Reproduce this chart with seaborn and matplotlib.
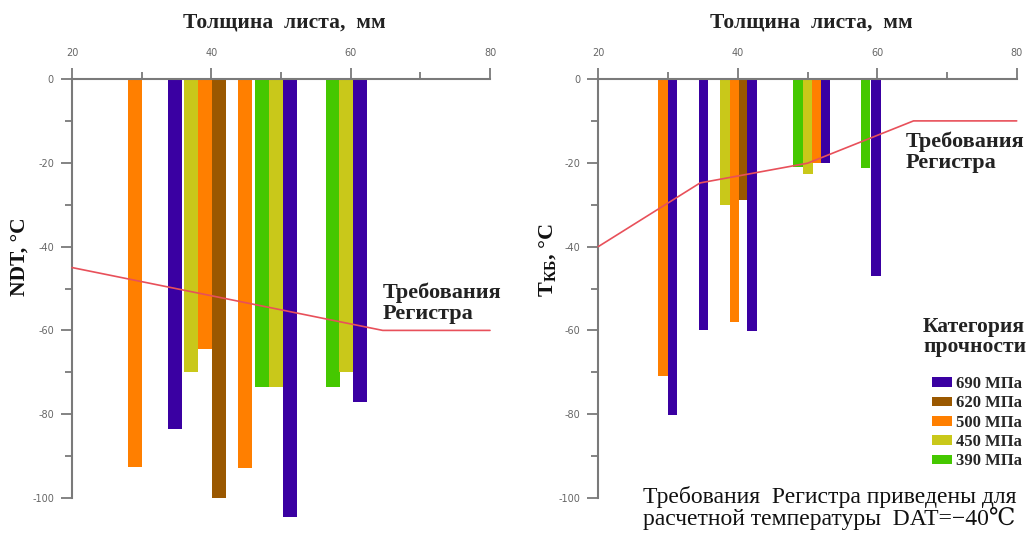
import matplotlib
matplotlib.use("Agg")
import matplotlib.pyplot as plt
from matplotlib.patches import Patch
import seaborn as sns
import numpy as np

# ---------------- data ----------------
categories = ["690 МПа", "620 МПа", "500 МПа", "450 МПа", "390 МПа"]
cat_colors = ["#3a00a2", "#9a5800", "#ff7f00", "#c9c81a", "#45c800"]

# left panel: NDT vs plate thickness
left_thick = [29.1, 34.85, 37.1, 39.1, 41.1, 44.8, 47.3, 49.3, 51.3, 57.4, 59.3, 61.3]
left_ndt = [-92.5, -83.6, -70, -64.5, -100, -92.9, -73.6, -73.6, -104.5, -73.6, -70, -77.2]
left_cat = ["500 МПа", "690 МПа", "450 МПа", "500 МПа", "620 МПа", "500 МПа",
            "390 МПа", "450 МПа", "690 МПа", "390 МПа", "450 МПа", "690 МПа"]

# right panel: T_KB vs plate thickness
right_thick = [29.3, 30.65, 35.1, 38.15, 39.55, 40.8, 42.05, 48.65, 50.05, 51.3, 52.55, 58.35, 59.8]
right_tkb = [-71, -80.2, -60, -30, -57.9, -28.9, -60.1, -21, -22.6, -20, -20.1, -21.3, -47]
right_cat = ["500 МПа", "690 МПа", "690 МПа", "450 МПа", "500 МПа", "620 МПа", "690 МПа",
             "390 МПа", "450 МПа", "500 МПа", "690 МПа", "390 МПа", "690 МПа"]

# register requirement lines
left_req_x = [20, 64.6, 80]
left_req_y = [-45, -60, -60]
right_req_x = [20, 34.6, 50, 65.2, 80]
right_req_y = [-40, -24.8, -20.1, -10, -10]

x_ticks = [20, 40, 60, 80]
y_ticks = [0, -20, -40, -60, -80, -100]

# ---------------- style ----------------
sns.set_theme(style="white")
plt.rcParams["font.family"] = ["DejaVu Sans"]
plt.rcParams["axes.unicode_minus"] = False
plt.rcParams["mathtext.fontset"] = "custom"
plt.rcParams["mathtext.rm"] = "Liberation Serif:bold"
plt.rcParams["mathtext.bf"] = "Liberation Serif:bold"
plt.rcParams["mathtext.it"] = "Liberation Serif:bold"

W, H = 1035, 533
fig = plt.figure(figsize=(W / 100, H / 100), dpi=100)

color_map = dict(zip(categories, cat_colors))
SERIF = ["Liberation Serif", "DejaVu Serif"]
AX_COL = "#7a7a7a"
RED = "#e8505a"


def px_ax(x0, x1):
    y_top = 79
    y_bot = 79 + 105 * 4.19
    return [x0 / W, 1 - y_bot / H, (x1 - x0) / W, (y_bot - y_top) / H]


def style_axis(ax):
    ax.set_xlim(20, 80)
    ax.set_ylim(-105, 0)
    for s in ["right", "bottom"]:
        ax.spines[s].set_visible(False)
    for s in ["left", "top"]:
        ax.spines[s].set_visible(True)
        ax.spines[s].set_color(AX_COL)
        ax.spines[s].set_linewidth(1.5)
    ax.spines["left"].set_bounds(-100, 0)
    ax.xaxis.tick_top()
    ax.set_xticks(x_ticks)
    ax.set_xticks([30, 50, 70], minor=True)
    ax.set_yticks(y_ticks)
    ax.set_yticks([-10, -30, -50, -70, -90], minor=True)
    ax.tick_params(axis="both", which="major", direction="out", length=8,
                   width=1.3, color=AX_COL, labelsize=7, labelcolor="#666666", pad=5)
    ax.tick_params(axis="both", which="minor", direction="out", length=5,
                   width=1.3, color=AX_COL)
    ax.tick_params(axis="x", which="both", top=True, bottom=False,
                   labeltop=True, labelbottom=False)
    ax.tick_params(axis="y", which="both", left=True, right=False)
    ax.tick_params(axis="x", which="major", pad=7)
    ax.set_xlabel("")
    ax.set_ylabel("")
    ax.grid(False)
    ax.patch.set_alpha(0)


# left axes
axL = fig.add_axes(px_ax(72, 490))
axL.bar(left_thick, left_ndt, width=2.0,
        color=[color_map[c] for c in left_cat], linewidth=0, zorder=2)
sns.lineplot(x=left_req_x, y=left_req_y, ax=axL, color=RED, linewidth=1.2,
             zorder=3, clip_on=False, estimator=None, sort=False)
style_axis(axL)

# right axes
axR = fig.add_axes(px_ax(598.3, 1016.7))
axR.bar(right_thick, right_tkb, width=1.35,
        color=[color_map[c] for c in right_cat], linewidth=0, zorder=2)
sns.lineplot(x=right_req_x, y=right_req_y, ax=axR, color=RED, linewidth=1.2,
             zorder=3, clip_on=False, estimator=None, sort=False)
style_axis(axR)

# titles (x axis labels on top)
for xc in (284, 811):
    fig.text(xc / W, 1 - 22 / H, "Толщина  листа,  мм", family=SERIF, weight="bold",
             fontsize=15.5, ha="center", va="center", color="#222222")

# y labels
fig.text(20 / W, 1 - 257 / H, "NDT, °C", family=SERIF, weight="bold", fontsize=15.5,
         rotation=90, ha="center", va="center", color="#111111")
fig.text(548 / W, 1 - 260 / H, r"T$_{\mathbf{КБ}}$, °C", family=SERIF, weight="bold",
         fontsize=16, rotation=90, ha="center", va="center", color="#111111")

# requirement annotations
fig.text(383 / W, 1 - 303 / H, "Требования\nРегистра", family=SERIF, weight="bold",
         fontsize=16, ha="left", va="center", color="#222222", linespacing=1.05)
fig.text(906 / W, 1 - 152 / H, "Требования\nРегистра", family=SERIF, weight="bold",
         fontsize=16, ha="left", va="center", color="#222222", linespacing=1.05)

# legend
fig.text(923 / W, 1 - 337 / H, "Категория\nпрочности", family=SERIF, weight="bold",
         fontsize=15.5, ha="left", va="center", color="#222222", linespacing=1.0)
handles = [Patch(facecolor=color_map[c], edgecolor="none", label=c) for c in categories]
fig.legend(handles=handles, loc="upper left", bbox_to_anchor=(932 / W, 1 - 376 / H),
           frameon=False, prop={"family": "Liberation Serif", "weight": "bold", "size": 12},
           handlelength=1.2, handleheight=0.5, handletextpad=0.25, labelspacing=0.2,
           borderpad=0, borderaxespad=0)

# bottom note
fig.text(643 / W, 1 - 508 / H,
         "Требования  Регистра приведены для\nрасчетной температуры  DAT=−40℃",
         family=SERIF, fontsize=17, ha="left", va="center", color="#111111",
         linespacing=0.95)

fig.savefig("out.png", dpi=100)
